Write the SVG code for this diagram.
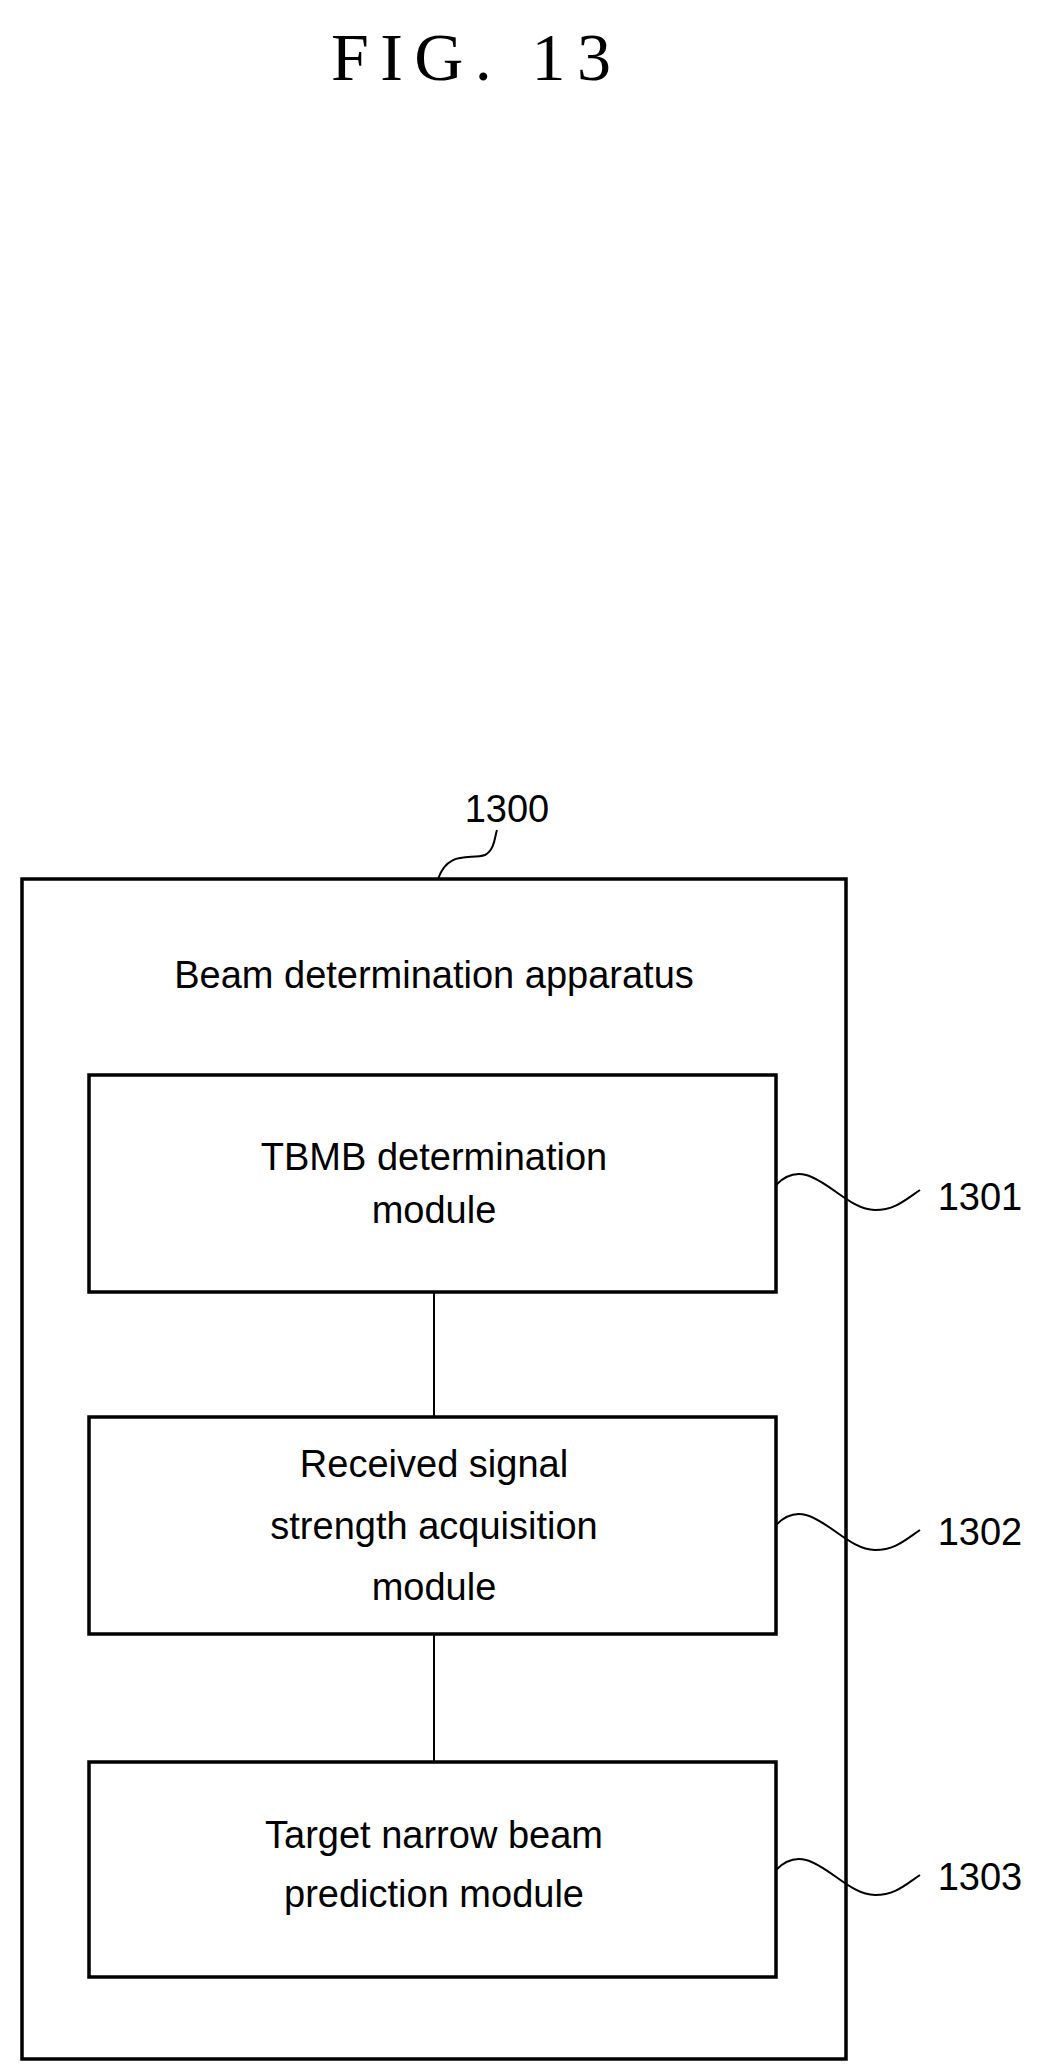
<svg xmlns="http://www.w3.org/2000/svg" width="1046" height="2072" viewBox="0 0 1046 2072">
<style>
.box{fill:none;stroke:#000;stroke-width:3.5}
.ln{fill:none;stroke:#000;stroke-width:2}
.t{font-family:"Liberation Sans",Arial,sans-serif;font-size:38px;text-anchor:middle;fill:#000}
</style>
<rect width="1046" height="2072" fill="#fff"/>
<text x="471" y="80" font-family="Liberation Serif,serif" font-size="68" text-anchor="middle" textLength="280">FIG. 13</text>
<g id="n1300">
<rect class="box" x="22" y="879" width="824" height="1180"/>
<text class="t" x="434" y="988">Beam determination apparatus</text>
<text class="t" x="507" y="822">1300</text>
<path class="ln" d="M438 879 C448 850,470 860,485 855 C495 850,495 835,497 830"/>
</g>
<g id="n1301">
<rect class="box" x="89" y="1075" width="687" height="217"/>
<text class="t" x="434" y="1170">TBMB determination</text>
<text class="t" x="434" y="1223">module</text>
<text class="t" x="980" y="1210">1301</text>
<path class="ln" d="M776 1185 C810 1150,840 1210,875 1210 C895 1210,905 1200,920 1190"/>
</g>
<g id="n1302">
<rect class="box" x="89" y="1417" width="687" height="217"/>
<text class="t" x="434" y="1477">Received signal</text>
<text class="t" x="434" y="1539">strength acquisition</text>
<text class="t" x="434" y="1600">module</text>
<text class="t" x="980" y="1545">1302</text>
<path class="ln" d="M776 1525 C810 1490,840 1550,875 1550 C895 1550,905 1540,920 1530"/>
</g>
<g id="n1303">
<rect class="box" x="89" y="1762" width="687" height="215"/>
<text class="t" x="434" y="1848">Target narrow beam</text>
<text class="t" x="434" y="1907">prediction module</text>
<text class="t" x="980" y="1890">1303</text>
<path class="ln" d="M776 1870 C810 1835,840 1895,875 1895 C895 1895,905 1885,920 1875"/>
</g>
<g id="connectors">
<line class="ln" x1="434" y1="1292" x2="434" y2="1417"/>
<line class="ln" x1="434" y1="1634" x2="434" y2="1762"/>
</g>
</svg>
